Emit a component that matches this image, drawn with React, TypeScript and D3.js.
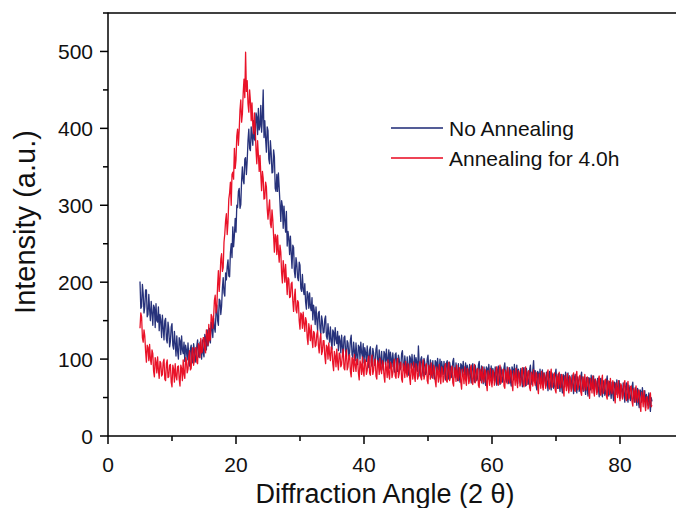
import React from "react";
import * as d3 from "d3";

// Sampling grid: 2θ from 5° to 85° in 0.125° steps
const angleStart = 5;
const angleStep = 0.125;

// "No Annealing" intensities (a.u.), one row per degree (8 samples)
const noAnnealing: number[] = [
  201, 166, 168, 197, 185, 160, 168, 190,
  190, 155, 158, 184, 164, 150, 175, 160,
  144, 170, 167, 141, 172, 150, 148, 168,
  137, 158, 150, 128, 157, 140, 125, 150,
  153, 126, 121, 148, 139, 116, 123, 142,
  146, 118, 113, 136, 120, 104, 130, 110,
  100, 128, 124, 106, 130, 112, 107, 122,
  97, 118, 112, 99, 121, 104, 91, 114,
  118, 99, 95, 120, 112, 96, 102, 117,
  125, 104, 102, 122, 112, 100, 125, 108,
  103, 132, 128, 112, 138, 117, 124, 140,
  121, 148, 140, 128, 153, 141, 135, 160,
  170, 150, 144, 178, 176, 158, 169, 192,
  206, 186, 182, 212, 203, 220, 229, 208,
  207, 238, 250, 232, 272, 246, 261, 283,
  265, 300, 297, 318, 322, 296, 301, 332,
  350, 332, 328, 360, 362, 340, 358, 384,
  399, 374, 371, 402, 389, 378, 410, 386,
  384, 420, 415, 392, 426, 398, 403, 430,
  395, 415, 450, 388, 410, 386, 369, 402,
  397, 360, 354, 384, 368, 342, 343, 372,
  363, 322, 318, 340, 318, 342, 323, 302,
  279, 306, 299, 270, 299, 280, 265, 292,
  247, 266, 257, 236, 260, 238, 218, 248,
  245, 214, 206, 232, 224, 206, 202, 226,
  222, 192, 188, 210, 191, 184, 198, 174,
  165, 188, 184, 166, 186, 168, 163, 180,
  151, 170, 162, 145, 168, 152, 137, 160,
  162, 140, 133, 156, 149, 134, 135, 152,
  156, 130, 126, 146, 133, 122, 142, 124,
  113, 138, 135, 118, 141, 126, 120, 136,
  111, 130, 124, 108, 131, 116, 103, 128,
  130, 110, 103, 124, 121, 104, 108, 125,
  131, 106, 102, 122, 110, 98, 121, 104,
  93, 118, 116, 100, 122, 108, 103, 120,
  95, 115, 108, 97, 117, 104, 89, 112,
  116, 96, 91, 114, 108, 92, 96, 113,
  118, 97, 92, 112, 100, 88, 110, 94,
  86, 110, 107, 93, 113, 98, 95, 112,
  88, 109, 100, 90, 108, 95, 83, 106,
  108, 90, 84, 105, 100, 86, 89, 107,
  111, 92, 85, 104, 93, 82, 103, 88,
  79, 104, 101, 88, 106, 92, 89, 105,
  82, 102, 95, 84, 117, 96, 78, 100,
  103, 86, 78, 101, 95, 80, 83, 100,
  105, 86, 80, 99, 87, 76, 98, 82,
  74, 98, 96, 82, 101, 88, 84, 100,
  77, 97, 90, 80, 97, 85, 73, 95,
  98, 80, 74, 96, 90, 76, 79, 97,
  101, 82, 76, 95, 83, 72, 94, 78,
  70, 94, 92, 78, 97, 84, 80, 95,
  73, 92, 86, 75, 93, 80, 69, 90,
  94, 76, 70, 92, 86, 72, 75, 92,
  97, 78, 72, 91, 79, 68, 90, 74,
  66, 90, 88, 74, 93, 80, 76, 91,
  69, 88, 82, 72, 90, 77, 66, 86,
  91, 74, 67, 90, 84, 70, 73, 89,
  95, 76, 70, 90, 78, 68, 89, 72,
  65, 90, 87, 73, 93, 79, 76, 92,
  68, 87, 81, 70, 88, 75, 64, 86,
  89, 72, 65, 88, 81, 67, 70, 86,
  92, 74, 67, 86, 98, 72, 85, 66,
  60, 84, 82, 68, 87, 74, 70, 86,
  63, 82, 76, 65, 83, 70, 59, 80,
  84, 67, 60, 82, 76, 62, 65, 81,
  87, 68, 62, 81, 69, 58, 80, 64,
  56, 80, 78, 64, 83, 70, 66, 82,
  59, 78, 72, 61, 79, 66, 55, 76,
  80, 63, 56, 77, 72, 58, 61, 77,
  83, 64, 58, 77, 65, 54, 76, 60,
  52, 76, 74, 60, 79, 66, 62, 78,
  55, 74, 68, 57, 75, 62, 51, 72,
  75, 58, 51, 72, 67, 53, 56, 71,
  78, 58, 52, 71, 60, 49, 70, 55,
  46, 70, 68, 54, 73, 60, 56, 72,
  49, 66, 61, 50, 69, 55, 44, 64,
  69, 51, 44, 66, 61, 46, 49, 64,
  70, 50, 44, 63, 51, 40, 62, 45,
  37, 60, 58, 44, 63, 50, 45, 59,
  37, 54, 49, 40, 56, 44, 32, 50,
  45,
];

// "Annealing for 4.0h" intensities (a.u.)
const annealed4h: number[] = [
  140, 160, 155, 128, 122, 138, 130, 110,
  96, 118, 115, 98, 119, 100, 93, 112,
  107, 84, 77, 102, 96, 82, 103, 86,
  75, 97, 95, 78, 80, 96, 100, 74,
  72, 94, 99, 76, 77, 92, 93, 70,
  64, 92, 87, 70, 94, 78, 73, 90,
  91, 74, 65, 92, 88, 72, 99, 80,
  75, 102, 98, 82, 87, 104, 111, 86,
  88, 110, 115, 92, 99, 114, 115, 96,
  94, 120, 117, 102, 127, 108, 110, 128,
  128, 112, 108, 138, 131, 118, 145, 124,
  126, 158, 155, 140, 154, 176, 183, 160,
  167, 196, 215, 188, 204, 230, 237, 214,
  219, 252, 263, 280, 289, 262, 278, 308,
  316, 330, 300, 340, 343, 334, 374, 348,
  359, 390, 399, 378, 398, 424, 437, 408,
  419, 446, 464, 440, 499, 448, 462, 432,
  421, 450, 436, 410, 433, 404, 393, 420,
  401, 372, 354, 384, 365, 344, 365, 340,
  319, 344, 335, 308, 309, 330, 324, 296,
  282, 296, 307, 276, 271, 294, 281, 260,
  239, 262, 259, 236, 261, 240, 226, 248,
  239, 212, 199, 228, 217, 200, 223, 204,
  184, 206, 204, 180, 181, 198, 200, 176,
  162, 180, 191, 164, 160, 176, 174, 150,
  139, 160, 158, 140, 161, 146, 136, 154,
  149, 128, 119, 146, 137, 124, 144, 126,
  115, 136, 134, 116, 118, 132, 137, 118,
  108, 126, 133, 106, 110, 124, 124, 104,
  94, 118, 116, 100, 121, 106, 98, 116,
  113, 94, 85, 110, 104, 90, 113, 96,
  86, 108, 106, 90, 93, 106, 113, 88,
  86, 104, 112, 86, 90, 104, 106, 84,
  77, 102, 100, 84, 106, 92, 84, 100,
  100, 82, 73, 98, 93, 80, 103, 84,
  78, 100, 97, 80, 85, 100, 104, 82,
  79, 98, 105, 80, 85, 98, 100, 78,
  74, 98, 94, 80, 101, 86, 81, 98,
  95, 78, 70, 96, 89, 76, 99, 80,
  74, 96, 93, 76, 81, 96, 100, 78,
  75, 94, 101, 76, 81, 94, 96, 74,
  70, 94, 90, 76, 97, 82, 77, 94,
  92, 76, 67, 94, 86, 74, 96, 78,
  71, 94, 90, 74, 78, 92, 97, 76,
  73, 92, 99, 74, 79, 92, 94, 72,
  68, 92, 88, 74, 95, 80, 75, 92,
  89, 72, 64, 90, 83, 70, 93, 76,
  68, 90, 87, 70, 75, 90, 94, 72,
  70, 89, 96, 72, 76, 88, 91, 69,
  65, 89, 85, 71, 92, 77, 72, 89,
  86, 70, 61, 87, 80, 68, 90, 73,
  66, 88, 85, 68, 73, 88, 92, 70,
  67, 86, 93, 69, 73, 86, 88, 66,
  63, 87, 83, 69, 90, 75, 70, 87,
  84, 68, 59, 85, 78, 66, 88, 71,
  64, 86, 83, 66, 71, 86, 90, 68,
  66, 85, 92, 68, 72, 85, 87, 65,
  62, 86, 82, 68, 89, 74, 69, 86,
  84, 68, 59, 85, 78, 66, 88, 71,
  63, 85, 82, 65, 70, 85, 89, 67,
  64, 83, 90, 66, 70, 83, 85, 63,
  59, 83, 79, 65, 86, 71, 66, 83,
  80, 64, 55, 81, 74, 62, 84, 67,
  60, 82, 79, 62, 67, 82, 86, 64,
  61, 80, 87, 63, 67, 80, 82, 60,
  56, 80, 76, 62, 83, 68, 63, 80,
  77, 61, 52, 78, 71, 59, 81, 64,
  56, 78, 75, 58, 63, 78, 82, 60,
  58, 77, 84, 60, 64, 77, 79, 57,
  53, 77, 73, 59, 80, 65, 60, 77,
  74, 58, 49, 75, 68, 56, 78, 61,
  52, 74, 71, 54, 59, 74, 78, 56,
  53, 72, 79, 55, 59, 72, 74, 52,
  48, 72, 68, 54, 75, 60, 55, 72,
  68, 52, 43, 69, 62, 50, 72, 55,
  46, 68, 65, 48, 53, 68, 72, 50,
  46, 64, 71, 48, 51, 64, 65, 45,
  39, 62, 58, 44, 65, 50, 44, 60,
  58, 40, 32, 57, 50, 38, 59, 44,
  33, 50, 51, 35, 38, 52, 56, 38,
  40,
];

const xMajorTicks = [0, 20, 40, 60, 80];
const xMinorTicks = [10, 30, 50, 70, 90];
const yMajorTicks = [0, 100, 200, 300, 400, 500];
const yMinorTicks = [50, 150, 250, 350, 450];

const seriesNames = ["No Annealing", "Annealing for 4.0h"];
const seriesColors = ["#1b2774", "#e8061e"];

const W = 676;
const H = 508;
const FONT = "'Liberation Sans', Arial, sans-serif";

export default function App() {
  const x = d3.scaleLinear().domain([0, 90]).range([108, 684]);
  const y = d3.scaleLinear().domain([0, 550]).range([436, 13]);
  const left = 108;
  const bottom = 436;
  const top = 13;

  const toPts = (vals: number[]) =>
    vals.map((v, i) => [angleStart + i * angleStep, v] as [number, number]);
  const line = d3
    .line<[number, number]>()
    .x((d) => x(d[0]))
    .y((d) => y(d[1]));

  const series = [noAnnealing, annealed4h];

  return (
    <svg
      width={W}
      height={H}
      style={{ position: "absolute", left: 0, top: 0, background: "#fff" }}
      fontFamily={FONT}
    >
      <defs>
        <clipPath id="plotClip">
          <rect x={left} y={top} width={W - left} height={bottom - top} />
        </clipPath>
      </defs>
      <g clipPath="url(#plotClip)">
        {series.map((s, i) => (
          <path
            key={i}
            d={line(toPts(s)) || ""}
            fill="none"
            stroke={seriesColors[i]}
            strokeWidth={1.3}
            strokeOpacity={0.95}
            strokeLinejoin="round"
          />
        ))}
      </g>
      {/* axes */}
      <line x1={left} x2={left} y1={top - 0.5} y2={bottom} stroke="#000" strokeWidth={1.5} />
      <line x1={left} x2={W} y1={bottom} y2={bottom} stroke="#000" strokeWidth={1.5} />
      <line x1={103} x2={W} y1={top} y2={top} stroke="#000" strokeWidth={1.5} />
      {yMajorTicks.map((t) => (
        <g key={"ym" + t}>
          <line x1={left - 8} x2={left} y1={y(t)} y2={y(t)} stroke="#000" strokeWidth={1.5} />
          <text x={left - 15} y={y(t)} dy="0.36em" textAnchor="end" fontSize={21} fill="#111">
            {t}
          </text>
        </g>
      ))}
      {yMinorTicks.map((t) => (
        <line key={"yn" + t} x1={left - 5} x2={left} y1={y(t)} y2={y(t)} stroke="#000" strokeWidth={1.5} />
      ))}
      {xMajorTicks.map((t) => (
        <g key={"xm" + t}>
          <line x1={x(t)} x2={x(t)} y1={bottom} y2={bottom + 8} stroke="#000" strokeWidth={1.5} />
          <text x={x(t)} y={472} textAnchor="middle" fontSize={21} fill="#111">
            {t}
          </text>
        </g>
      ))}
      {xMinorTicks.map((t) => (
        <line key={"xn" + t} x1={x(t)} x2={x(t)} y1={bottom} y2={bottom + 5} stroke="#000" strokeWidth={1.5} />
      ))}
      <text x={385} y={503} textAnchor="middle" fontSize={27} fill="#111">
        Diffraction Angle (2 θ)
      </text>
      <text
        transform={`translate(35, 222) rotate(-90)`}
        textAnchor="middle"
        fontSize={29}
        fill="#111"
      >
        Intensity (a.u.)
      </text>
      {/* legend */}
      {seriesNames.map((n, i) => (
        <g key={n} transform={`translate(391, ${128 + i * 30})`}>
          <line x1={0} x2={52} y1={0} y2={0} stroke={seriesColors[i]} strokeWidth={1.5} />
          <text x={58} y={0} dy="0.36em" fontSize={21} fill="#111">
            {n}
          </text>
        </g>
      ))}
    </svg>
  );
}
